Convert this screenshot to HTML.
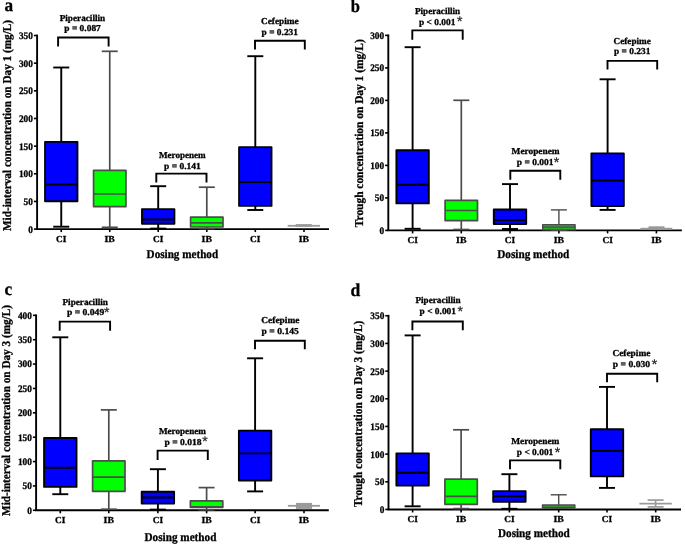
<!DOCTYPE html>
<html><head><meta charset="utf-8"><style>
html,body{margin:0;padding:0;background:#fff;width:685px;height:544px;overflow:hidden}
svg{display:block;will-change:transform;text-rendering:geometricPrecision}
</style></head><body>
<svg width="685" height="544" viewBox="0 0 685 544">
<rect width="685" height="544" fill="#fff"/>
<line x1="37.10" y1="34.61" x2="37.10" y2="229.10" stroke="#000" stroke-width="1.9" stroke-linecap="butt"/>
<line x1="36.15" y1="229.10" x2="329.00" y2="229.10" stroke="#000" stroke-width="1.9" stroke-linecap="butt"/>
<line x1="33.90" y1="229.10" x2="37.10" y2="229.10" stroke="#000" stroke-width="1.6" stroke-linecap="butt"/>
<text x="32.90" y="232.50" font-family="'Liberation Serif', serif" font-weight="bold" font-size="10" text-anchor="end" textLength="4.65" lengthAdjust="spacingAndGlyphs" stroke="#000" stroke-width="0.3">0</text>
<line x1="33.90" y1="201.44" x2="37.10" y2="201.44" stroke="#000" stroke-width="1.6" stroke-linecap="butt"/>
<text x="32.90" y="204.84" font-family="'Liberation Serif', serif" font-weight="bold" font-size="10" text-anchor="end" textLength="9.30" lengthAdjust="spacingAndGlyphs" stroke="#000" stroke-width="0.3">50</text>
<line x1="33.90" y1="173.79" x2="37.10" y2="173.79" stroke="#000" stroke-width="1.6" stroke-linecap="butt"/>
<text x="32.90" y="177.19" font-family="'Liberation Serif', serif" font-weight="bold" font-size="10" text-anchor="end" textLength="13.95" lengthAdjust="spacingAndGlyphs" stroke="#000" stroke-width="0.3">100</text>
<line x1="33.90" y1="146.13" x2="37.10" y2="146.13" stroke="#000" stroke-width="1.6" stroke-linecap="butt"/>
<text x="32.90" y="149.53" font-family="'Liberation Serif', serif" font-weight="bold" font-size="10" text-anchor="end" textLength="13.95" lengthAdjust="spacingAndGlyphs" stroke="#000" stroke-width="0.3">150</text>
<line x1="33.90" y1="118.48" x2="37.10" y2="118.48" stroke="#000" stroke-width="1.6" stroke-linecap="butt"/>
<text x="32.90" y="121.88" font-family="'Liberation Serif', serif" font-weight="bold" font-size="10" text-anchor="end" textLength="13.95" lengthAdjust="spacingAndGlyphs" stroke="#000" stroke-width="0.3">200</text>
<line x1="33.90" y1="90.82" x2="37.10" y2="90.82" stroke="#000" stroke-width="1.6" stroke-linecap="butt"/>
<text x="32.90" y="94.22" font-family="'Liberation Serif', serif" font-weight="bold" font-size="10" text-anchor="end" textLength="13.95" lengthAdjust="spacingAndGlyphs" stroke="#000" stroke-width="0.3">250</text>
<line x1="33.90" y1="63.17" x2="37.10" y2="63.17" stroke="#000" stroke-width="1.6" stroke-linecap="butt"/>
<text x="32.90" y="66.57" font-family="'Liberation Serif', serif" font-weight="bold" font-size="10" text-anchor="end" textLength="13.95" lengthAdjust="spacingAndGlyphs" stroke="#000" stroke-width="0.3">300</text>
<line x1="33.90" y1="35.51" x2="37.10" y2="35.51" stroke="#000" stroke-width="1.6" stroke-linecap="butt"/>
<text x="32.90" y="38.91" font-family="'Liberation Serif', serif" font-weight="bold" font-size="10" text-anchor="end" textLength="13.95" lengthAdjust="spacingAndGlyphs" stroke="#000" stroke-width="0.3">350</text>
<line x1="61.25" y1="229.10" x2="61.25" y2="232.10" stroke="#000" stroke-width="1.6" stroke-linecap="butt"/>
<text x="61.25" y="241.90" font-family="'Liberation Serif', serif" font-weight="bold" font-size="9.2" text-anchor="middle" textLength="10.40" lengthAdjust="spacingAndGlyphs" stroke="#000" stroke-width="0.3">CI</text>
<line x1="109.75" y1="229.10" x2="109.75" y2="232.10" stroke="#000" stroke-width="1.6" stroke-linecap="butt"/>
<text x="109.75" y="241.90" font-family="'Liberation Serif', serif" font-weight="bold" font-size="9.2" text-anchor="middle" textLength="10.40" lengthAdjust="spacingAndGlyphs" stroke="#000" stroke-width="0.3">IB</text>
<line x1="158.20" y1="229.10" x2="158.20" y2="232.10" stroke="#000" stroke-width="1.6" stroke-linecap="butt"/>
<text x="158.20" y="241.90" font-family="'Liberation Serif', serif" font-weight="bold" font-size="9.2" text-anchor="middle" textLength="10.40" lengthAdjust="spacingAndGlyphs" stroke="#000" stroke-width="0.3">CI</text>
<line x1="206.80" y1="229.10" x2="206.80" y2="232.10" stroke="#000" stroke-width="1.6" stroke-linecap="butt"/>
<text x="206.80" y="241.90" font-family="'Liberation Serif', serif" font-weight="bold" font-size="9.2" text-anchor="middle" textLength="10.40" lengthAdjust="spacingAndGlyphs" stroke="#000" stroke-width="0.3">IB</text>
<line x1="255.30" y1="229.10" x2="255.30" y2="232.10" stroke="#000" stroke-width="1.6" stroke-linecap="butt"/>
<text x="255.30" y="241.90" font-family="'Liberation Serif', serif" font-weight="bold" font-size="9.2" text-anchor="middle" textLength="10.40" lengthAdjust="spacingAndGlyphs" stroke="#000" stroke-width="0.3">CI</text>
<line x1="304.00" y1="229.10" x2="304.00" y2="232.10" stroke="#000" stroke-width="1.6" stroke-linecap="butt"/>
<text x="304.00" y="241.90" font-family="'Liberation Serif', serif" font-weight="bold" font-size="9.2" text-anchor="middle" textLength="10.40" lengthAdjust="spacingAndGlyphs" stroke="#000" stroke-width="0.3">IB</text>
<text x="4.60" y="11.00" font-family="'Liberation Serif', serif" font-weight="bold" font-size="18" text-anchor="start" textLength="8.60" lengthAdjust="spacingAndGlyphs" stroke="#000" stroke-width="0.3">a</text>
<text transform="translate(11.00,231.00) rotate(-90)" x="0" y="0" font-family="'Liberation Serif', serif" font-weight="bold" font-size="12" textLength="211.00" lengthAdjust="spacingAndGlyphs" stroke="#000" stroke-width="0.3">Mid-interval concentration on Day 1 (mg/L)</text>
<text x="146.60" y="257.80" font-family="'Liberation Serif', serif" font-weight="bold" font-size="12" text-anchor="start" textLength="71.50" lengthAdjust="spacingAndGlyphs" stroke="#000" stroke-width="0.3">Dosing method</text>
<line x1="61.25" y1="67.50" x2="61.25" y2="141.90" stroke="#000" stroke-width="1.9" stroke-linecap="butt"/>
<line x1="61.25" y1="201.20" x2="61.25" y2="226.70" stroke="#000" stroke-width="1.9" stroke-linecap="butt"/>
<line x1="53.25" y1="67.50" x2="69.25" y2="67.50" stroke="#000" stroke-width="1.9" stroke-linecap="butt"/>
<line x1="53.25" y1="226.70" x2="69.25" y2="226.70" stroke="#000" stroke-width="1.9" stroke-linecap="butt"/>
<rect x="45.05" y="141.90" width="32.40" height="59.30" fill="#0000ff" stroke="#000" stroke-width="1.9" stroke-linejoin="round"/>
<line x1="45.05" y1="184.50" x2="77.45" y2="184.50" stroke="#000" stroke-width="1.9" stroke-linecap="butt"/>
<line x1="109.75" y1="51.30" x2="109.75" y2="170.30" stroke="#4c4c4c" stroke-width="1.7" stroke-linecap="butt"/>
<line x1="109.75" y1="206.60" x2="109.75" y2="227.30" stroke="#4c4c4c" stroke-width="1.7" stroke-linecap="butt"/>
<line x1="101.75" y1="51.30" x2="117.75" y2="51.30" stroke="#4c4c4c" stroke-width="1.7" stroke-linecap="butt"/>
<line x1="101.75" y1="227.30" x2="117.75" y2="227.30" stroke="#4c4c4c" stroke-width="1.7" stroke-linecap="butt"/>
<rect x="93.55" y="170.30" width="32.40" height="36.30" fill="#00ff00" stroke="#4c4c4c" stroke-width="1.7" stroke-linejoin="round"/>
<line x1="93.55" y1="194.00" x2="125.95" y2="194.00" stroke="#4c4c4c" stroke-width="1.7" stroke-linecap="butt"/>
<line x1="158.20" y1="186.20" x2="158.20" y2="209.10" stroke="#000" stroke-width="1.9" stroke-linecap="butt"/>
<line x1="158.20" y1="223.80" x2="158.20" y2="228.60" stroke="#000" stroke-width="1.9" stroke-linecap="butt"/>
<line x1="150.20" y1="186.20" x2="166.20" y2="186.20" stroke="#000" stroke-width="1.9" stroke-linecap="butt"/>
<line x1="150.20" y1="228.60" x2="166.20" y2="228.60" stroke="#000" stroke-width="1.9" stroke-linecap="butt"/>
<rect x="142.00" y="209.10" width="32.40" height="14.70" fill="#0000ff" stroke="#000" stroke-width="1.9" stroke-linejoin="round"/>
<line x1="142.00" y1="219.50" x2="174.40" y2="219.50" stroke="#000" stroke-width="1.9" stroke-linecap="butt"/>
<line x1="206.80" y1="187.20" x2="206.80" y2="217.10" stroke="#4c4c4c" stroke-width="1.7" stroke-linecap="butt"/>
<line x1="206.80" y1="227.00" x2="206.80" y2="228.60" stroke="#4c4c4c" stroke-width="1.7" stroke-linecap="butt"/>
<line x1="198.80" y1="187.20" x2="214.80" y2="187.20" stroke="#4c4c4c" stroke-width="1.7" stroke-linecap="butt"/>
<line x1="198.80" y1="228.60" x2="214.80" y2="228.60" stroke="#4c4c4c" stroke-width="1.7" stroke-linecap="butt"/>
<rect x="190.60" y="217.10" width="32.40" height="9.90" fill="#00ff00" stroke="#4c4c4c" stroke-width="1.7" stroke-linejoin="round"/>
<line x1="190.60" y1="222.90" x2="223.00" y2="222.90" stroke="#4c4c4c" stroke-width="1.7" stroke-linecap="butt"/>
<line x1="255.30" y1="56.20" x2="255.30" y2="147.10" stroke="#000" stroke-width="1.9" stroke-linecap="butt"/>
<line x1="255.30" y1="205.90" x2="255.30" y2="210.00" stroke="#000" stroke-width="1.9" stroke-linecap="butt"/>
<line x1="247.30" y1="56.20" x2="263.30" y2="56.20" stroke="#000" stroke-width="1.9" stroke-linecap="butt"/>
<line x1="247.30" y1="210.00" x2="263.30" y2="210.00" stroke="#000" stroke-width="1.9" stroke-linecap="butt"/>
<rect x="239.10" y="147.10" width="32.40" height="58.80" fill="#0000ff" stroke="#000" stroke-width="1.9" stroke-linejoin="round"/>
<line x1="239.10" y1="182.00" x2="271.50" y2="182.00" stroke="#000" stroke-width="1.9" stroke-linecap="butt"/>
<rect x="287.70" y="224.90" width="32.30" height="1.80" fill="#9a9a9a" stroke-linejoin="round"/>
<rect x="295.70" y="224.10" width="16.10" height="2.60" fill="#999" stroke-linejoin="round"/>
<path d="M58.10 46.60 V37.50 H108.60 V46.60" fill="none" stroke="#000" stroke-width="1.9"/>
<path d="M156.30 182.60 V173.60 H206.50 V182.60" fill="none" stroke="#000" stroke-width="1.9"/>
<path d="M255.00 49.40 V40.80 H304.80 V49.40" fill="none" stroke="#000" stroke-width="1.9"/>
<text x="59.70" y="20.80" font-family="'Liberation Serif', serif" font-weight="bold" font-size="9.1" text-anchor="start" textLength="45.50" lengthAdjust="spacingAndGlyphs" stroke="#000" stroke-width="0.3">Piperacillin</text>
<text x="64.30" y="31.10" font-family="'Liberation Serif', serif" font-weight="bold" font-size="9.1" text-anchor="start" textLength="36.50" lengthAdjust="spacingAndGlyphs" stroke="#000" stroke-width="0.3">p = 0.087</text>
<text x="158.90" y="158.00" font-family="'Liberation Serif', serif" font-weight="bold" font-size="9.1" text-anchor="start" textLength="46.80" lengthAdjust="spacingAndGlyphs" stroke="#000" stroke-width="0.3">Meropenem</text>
<text x="164.00" y="169.40" font-family="'Liberation Serif', serif" font-weight="bold" font-size="9.1" text-anchor="start" textLength="36.80" lengthAdjust="spacingAndGlyphs" stroke="#000" stroke-width="0.3">p = 0.141</text>
<text x="261.00" y="24.00" font-family="'Liberation Serif', serif" font-weight="bold" font-size="9.1" text-anchor="start" textLength="37.70" lengthAdjust="spacingAndGlyphs" stroke="#000" stroke-width="0.3">Cefepime</text>
<text x="261.60" y="35.10" font-family="'Liberation Serif', serif" font-weight="bold" font-size="9.1" text-anchor="start" textLength="36.40" lengthAdjust="spacingAndGlyphs" stroke="#000" stroke-width="0.3">p = 0.231</text>
<line x1="388.30" y1="34.50" x2="388.30" y2="230.40" stroke="#000" stroke-width="1.9" stroke-linecap="butt"/>
<line x1="387.35" y1="230.40" x2="681.90" y2="230.40" stroke="#000" stroke-width="1.9" stroke-linecap="butt"/>
<line x1="385.10" y1="230.40" x2="388.30" y2="230.40" stroke="#000" stroke-width="1.6" stroke-linecap="butt"/>
<text x="384.10" y="233.80" font-family="'Liberation Serif', serif" font-weight="bold" font-size="10" text-anchor="end" textLength="4.65" lengthAdjust="spacingAndGlyphs" stroke="#000" stroke-width="0.3">0</text>
<line x1="385.10" y1="197.90" x2="388.30" y2="197.90" stroke="#000" stroke-width="1.6" stroke-linecap="butt"/>
<text x="384.10" y="201.30" font-family="'Liberation Serif', serif" font-weight="bold" font-size="10" text-anchor="end" textLength="9.30" lengthAdjust="spacingAndGlyphs" stroke="#000" stroke-width="0.3">50</text>
<line x1="385.10" y1="165.40" x2="388.30" y2="165.40" stroke="#000" stroke-width="1.6" stroke-linecap="butt"/>
<text x="384.10" y="168.80" font-family="'Liberation Serif', serif" font-weight="bold" font-size="10" text-anchor="end" textLength="13.95" lengthAdjust="spacingAndGlyphs" stroke="#000" stroke-width="0.3">100</text>
<line x1="385.10" y1="132.90" x2="388.30" y2="132.90" stroke="#000" stroke-width="1.6" stroke-linecap="butt"/>
<text x="384.10" y="136.30" font-family="'Liberation Serif', serif" font-weight="bold" font-size="10" text-anchor="end" textLength="13.95" lengthAdjust="spacingAndGlyphs" stroke="#000" stroke-width="0.3">150</text>
<line x1="385.10" y1="100.40" x2="388.30" y2="100.40" stroke="#000" stroke-width="1.6" stroke-linecap="butt"/>
<text x="384.10" y="103.80" font-family="'Liberation Serif', serif" font-weight="bold" font-size="10" text-anchor="end" textLength="13.95" lengthAdjust="spacingAndGlyphs" stroke="#000" stroke-width="0.3">200</text>
<line x1="385.10" y1="67.90" x2="388.30" y2="67.90" stroke="#000" stroke-width="1.6" stroke-linecap="butt"/>
<text x="384.10" y="71.30" font-family="'Liberation Serif', serif" font-weight="bold" font-size="10" text-anchor="end" textLength="13.95" lengthAdjust="spacingAndGlyphs" stroke="#000" stroke-width="0.3">250</text>
<line x1="385.10" y1="35.40" x2="388.30" y2="35.40" stroke="#000" stroke-width="1.6" stroke-linecap="butt"/>
<text x="384.10" y="38.80" font-family="'Liberation Serif', serif" font-weight="bold" font-size="10" text-anchor="end" textLength="13.95" lengthAdjust="spacingAndGlyphs" stroke="#000" stroke-width="0.3">300</text>
<line x1="412.60" y1="230.40" x2="412.60" y2="233.40" stroke="#000" stroke-width="1.6" stroke-linecap="butt"/>
<text x="412.60" y="243.10" font-family="'Liberation Serif', serif" font-weight="bold" font-size="9.2" text-anchor="middle" textLength="10.40" lengthAdjust="spacingAndGlyphs" stroke="#000" stroke-width="0.3">CI</text>
<line x1="461.30" y1="230.40" x2="461.30" y2="233.40" stroke="#000" stroke-width="1.6" stroke-linecap="butt"/>
<text x="461.30" y="243.10" font-family="'Liberation Serif', serif" font-weight="bold" font-size="9.2" text-anchor="middle" textLength="10.40" lengthAdjust="spacingAndGlyphs" stroke="#000" stroke-width="0.3">IB</text>
<line x1="510.00" y1="230.40" x2="510.00" y2="233.40" stroke="#000" stroke-width="1.6" stroke-linecap="butt"/>
<text x="510.00" y="243.10" font-family="'Liberation Serif', serif" font-weight="bold" font-size="9.2" text-anchor="middle" textLength="10.40" lengthAdjust="spacingAndGlyphs" stroke="#000" stroke-width="0.3">CI</text>
<line x1="558.90" y1="230.40" x2="558.90" y2="233.40" stroke="#000" stroke-width="1.6" stroke-linecap="butt"/>
<text x="558.90" y="243.10" font-family="'Liberation Serif', serif" font-weight="bold" font-size="9.2" text-anchor="middle" textLength="10.40" lengthAdjust="spacingAndGlyphs" stroke="#000" stroke-width="0.3">IB</text>
<line x1="607.60" y1="230.40" x2="607.60" y2="233.40" stroke="#000" stroke-width="1.6" stroke-linecap="butt"/>
<text x="607.60" y="243.10" font-family="'Liberation Serif', serif" font-weight="bold" font-size="9.2" text-anchor="middle" textLength="10.40" lengthAdjust="spacingAndGlyphs" stroke="#000" stroke-width="0.3">CI</text>
<line x1="656.40" y1="230.40" x2="656.40" y2="233.40" stroke="#000" stroke-width="1.6" stroke-linecap="butt"/>
<text x="656.40" y="243.10" font-family="'Liberation Serif', serif" font-weight="bold" font-size="9.2" text-anchor="middle" textLength="10.40" lengthAdjust="spacingAndGlyphs" stroke="#000" stroke-width="0.3">IB</text>
<text x="350.80" y="12.10" font-family="'Liberation Serif', serif" font-weight="bold" font-size="18" text-anchor="start" textLength="9.20" lengthAdjust="spacingAndGlyphs" stroke="#000" stroke-width="0.3">b</text>
<text transform="translate(362.60,227.20) rotate(-90)" x="0" y="0" font-family="'Liberation Serif', serif" font-weight="bold" font-size="12" textLength="187.90" lengthAdjust="spacingAndGlyphs" stroke="#000" stroke-width="0.3">Trough concentration on Day 1 (mg/L)</text>
<text x="497.20" y="258.00" font-family="'Liberation Serif', serif" font-weight="bold" font-size="12" text-anchor="start" textLength="72.10" lengthAdjust="spacingAndGlyphs" stroke="#000" stroke-width="0.3">Dosing method</text>
<line x1="412.60" y1="47.20" x2="412.60" y2="150.30" stroke="#000" stroke-width="1.9" stroke-linecap="butt"/>
<line x1="412.60" y1="203.40" x2="412.60" y2="228.80" stroke="#000" stroke-width="1.9" stroke-linecap="butt"/>
<line x1="404.60" y1="47.20" x2="420.60" y2="47.20" stroke="#000" stroke-width="1.9" stroke-linecap="butt"/>
<line x1="404.60" y1="228.80" x2="420.60" y2="228.80" stroke="#000" stroke-width="1.9" stroke-linecap="butt"/>
<rect x="396.40" y="150.30" width="32.40" height="53.10" fill="#0000ff" stroke="#000" stroke-width="1.9" stroke-linejoin="round"/>
<line x1="396.40" y1="184.70" x2="428.80" y2="184.70" stroke="#000" stroke-width="1.9" stroke-linecap="butt"/>
<line x1="461.30" y1="100.30" x2="461.30" y2="200.40" stroke="#4c4c4c" stroke-width="1.7" stroke-linecap="butt"/>
<line x1="461.30" y1="220.60" x2="461.30" y2="229.50" stroke="#4c4c4c" stroke-width="1.7" stroke-linecap="butt"/>
<line x1="453.30" y1="100.30" x2="469.30" y2="100.30" stroke="#4c4c4c" stroke-width="1.7" stroke-linecap="butt"/>
<line x1="453.30" y1="229.50" x2="469.30" y2="229.50" stroke="#4c4c4c" stroke-width="1.7" stroke-linecap="butt"/>
<rect x="445.10" y="200.40" width="32.40" height="20.20" fill="#00ff00" stroke="#4c4c4c" stroke-width="1.7" stroke-linejoin="round"/>
<line x1="445.10" y1="210.50" x2="477.50" y2="210.50" stroke="#4c4c4c" stroke-width="1.7" stroke-linecap="butt"/>
<line x1="510.00" y1="184.10" x2="510.00" y2="209.50" stroke="#000" stroke-width="1.9" stroke-linecap="butt"/>
<line x1="510.00" y1="224.00" x2="510.00" y2="229.00" stroke="#000" stroke-width="1.9" stroke-linecap="butt"/>
<line x1="502.00" y1="184.10" x2="518.00" y2="184.10" stroke="#000" stroke-width="1.9" stroke-linecap="butt"/>
<line x1="502.00" y1="229.00" x2="518.00" y2="229.00" stroke="#000" stroke-width="1.9" stroke-linecap="butt"/>
<rect x="493.80" y="209.50" width="32.40" height="14.50" fill="#0000ff" stroke="#000" stroke-width="1.9" stroke-linejoin="round"/>
<line x1="493.80" y1="220.30" x2="526.20" y2="220.30" stroke="#000" stroke-width="1.9" stroke-linecap="butt"/>
<line x1="558.90" y1="209.90" x2="558.90" y2="224.60" stroke="#4c4c4c" stroke-width="1.4" stroke-linecap="butt"/>
<line x1="558.90" y1="229.90" x2="558.90" y2="230.20" stroke="#4c4c4c" stroke-width="1.4" stroke-linecap="butt"/>
<line x1="550.90" y1="209.90" x2="566.90" y2="209.90" stroke="#4c4c4c" stroke-width="1.4" stroke-linecap="butt"/>
<line x1="550.90" y1="230.20" x2="566.90" y2="230.20" stroke="#4c4c4c" stroke-width="1.4" stroke-linecap="butt"/>
<rect x="542.70" y="224.60" width="32.40" height="5.30" fill="#30a830" stroke="#4c4c4c" stroke-width="1.4" stroke-linejoin="round"/>
<line x1="542.70" y1="227.10" x2="575.10" y2="227.10" stroke="#4c4c4c" stroke-width="1.4" stroke-linecap="butt"/>
<line x1="607.60" y1="79.30" x2="607.60" y2="153.40" stroke="#000" stroke-width="1.9" stroke-linecap="butt"/>
<line x1="607.60" y1="206.10" x2="607.60" y2="209.90" stroke="#000" stroke-width="1.9" stroke-linecap="butt"/>
<line x1="599.60" y1="79.30" x2="615.60" y2="79.30" stroke="#000" stroke-width="1.9" stroke-linecap="butt"/>
<line x1="599.60" y1="209.90" x2="615.60" y2="209.90" stroke="#000" stroke-width="1.9" stroke-linecap="butt"/>
<rect x="591.40" y="153.40" width="32.40" height="52.70" fill="#0000ff" stroke="#000" stroke-width="1.9" stroke-linejoin="round"/>
<line x1="591.40" y1="180.50" x2="623.80" y2="180.50" stroke="#000" stroke-width="1.9" stroke-linecap="butt"/>
<rect x="640.40" y="227.80" width="31.90" height="1.90" fill="#9a9a9a" stroke-linejoin="round"/>
<rect x="648.50" y="226.30" width="16.00" height="3.40" fill="#999" stroke-linejoin="round"/>
<path d="M412.30 39.70 V30.40 H462.70 V39.70" fill="none" stroke="#000" stroke-width="1.9"/>
<path d="M510.30 179.70 V170.70 H560.30 V179.70" fill="none" stroke="#000" stroke-width="1.9"/>
<path d="M607.50 69.50 V60.90 H657.20 V69.50" fill="none" stroke="#000" stroke-width="1.9"/>
<text x="414.90" y="13.80" font-family="'Liberation Serif', serif" font-weight="bold" font-size="9.1" text-anchor="start" textLength="45.30" lengthAdjust="spacingAndGlyphs" stroke="#000" stroke-width="0.3">Piperacillin</text>
<text x="419.00" y="24.60" font-family="'Liberation Serif', serif" font-weight="bold" font-size="9.1" text-anchor="start" textLength="36.50" lengthAdjust="spacingAndGlyphs" stroke="#000" stroke-width="0.3">p &lt; 0.001</text>
<text x="457.05" y="25.70" font-family="'Liberation Sans', sans-serif" font-weight="normal" font-size="14.0" text-anchor="start" fill="#222" stroke="#222" stroke-width="0.25">*</text>
<text x="511.60" y="154.20" font-family="'Liberation Serif', serif" font-weight="bold" font-size="9.1" text-anchor="start" textLength="48.00" lengthAdjust="spacingAndGlyphs" stroke="#000" stroke-width="0.3">Meropenem</text>
<text x="516.80" y="165.20" font-family="'Liberation Serif', serif" font-weight="bold" font-size="9.1" text-anchor="start" textLength="36.80" lengthAdjust="spacingAndGlyphs" stroke="#000" stroke-width="0.3">p = 0.001</text>
<text x="553.85" y="167.00" font-family="'Liberation Sans', sans-serif" font-weight="normal" font-size="14.0" text-anchor="start" fill="#222" stroke="#222" stroke-width="0.25">*</text>
<text x="613.60" y="43.50" font-family="'Liberation Serif', serif" font-weight="bold" font-size="9.1" text-anchor="start" textLength="37.20" lengthAdjust="spacingAndGlyphs" stroke="#000" stroke-width="0.3">Cefepime</text>
<text x="614.00" y="54.40" font-family="'Liberation Serif', serif" font-weight="bold" font-size="9.1" text-anchor="start" textLength="36.40" lengthAdjust="spacingAndGlyphs" stroke="#000" stroke-width="0.3">p = 0.231</text>
<line x1="36.10" y1="314.44" x2="36.10" y2="510.30" stroke="#000" stroke-width="1.9" stroke-linecap="butt"/>
<line x1="35.15" y1="510.30" x2="328.80" y2="510.30" stroke="#000" stroke-width="1.9" stroke-linecap="butt"/>
<line x1="32.90" y1="510.30" x2="36.10" y2="510.30" stroke="#000" stroke-width="1.6" stroke-linecap="butt"/>
<text x="31.90" y="513.70" font-family="'Liberation Serif', serif" font-weight="bold" font-size="10" text-anchor="end" textLength="4.65" lengthAdjust="spacingAndGlyphs" stroke="#000" stroke-width="0.3">0</text>
<line x1="32.90" y1="485.93" x2="36.10" y2="485.93" stroke="#000" stroke-width="1.6" stroke-linecap="butt"/>
<text x="31.90" y="489.33" font-family="'Liberation Serif', serif" font-weight="bold" font-size="10" text-anchor="end" textLength="9.30" lengthAdjust="spacingAndGlyphs" stroke="#000" stroke-width="0.3">50</text>
<line x1="32.90" y1="461.56" x2="36.10" y2="461.56" stroke="#000" stroke-width="1.6" stroke-linecap="butt"/>
<text x="31.90" y="464.96" font-family="'Liberation Serif', serif" font-weight="bold" font-size="10" text-anchor="end" textLength="13.95" lengthAdjust="spacingAndGlyphs" stroke="#000" stroke-width="0.3">100</text>
<line x1="32.90" y1="437.19" x2="36.10" y2="437.19" stroke="#000" stroke-width="1.6" stroke-linecap="butt"/>
<text x="31.90" y="440.59" font-family="'Liberation Serif', serif" font-weight="bold" font-size="10" text-anchor="end" textLength="13.95" lengthAdjust="spacingAndGlyphs" stroke="#000" stroke-width="0.3">150</text>
<line x1="32.90" y1="412.82" x2="36.10" y2="412.82" stroke="#000" stroke-width="1.6" stroke-linecap="butt"/>
<text x="31.90" y="416.22" font-family="'Liberation Serif', serif" font-weight="bold" font-size="10" text-anchor="end" textLength="13.95" lengthAdjust="spacingAndGlyphs" stroke="#000" stroke-width="0.3">200</text>
<line x1="32.90" y1="388.45" x2="36.10" y2="388.45" stroke="#000" stroke-width="1.6" stroke-linecap="butt"/>
<text x="31.90" y="391.85" font-family="'Liberation Serif', serif" font-weight="bold" font-size="10" text-anchor="end" textLength="13.95" lengthAdjust="spacingAndGlyphs" stroke="#000" stroke-width="0.3">250</text>
<line x1="32.90" y1="364.08" x2="36.10" y2="364.08" stroke="#000" stroke-width="1.6" stroke-linecap="butt"/>
<text x="31.90" y="367.48" font-family="'Liberation Serif', serif" font-weight="bold" font-size="10" text-anchor="end" textLength="13.95" lengthAdjust="spacingAndGlyphs" stroke="#000" stroke-width="0.3">300</text>
<line x1="32.90" y1="339.71" x2="36.10" y2="339.71" stroke="#000" stroke-width="1.6" stroke-linecap="butt"/>
<text x="31.90" y="343.11" font-family="'Liberation Serif', serif" font-weight="bold" font-size="10" text-anchor="end" textLength="13.95" lengthAdjust="spacingAndGlyphs" stroke="#000" stroke-width="0.3">350</text>
<line x1="32.90" y1="315.34" x2="36.10" y2="315.34" stroke="#000" stroke-width="1.6" stroke-linecap="butt"/>
<text x="31.90" y="318.74" font-family="'Liberation Serif', serif" font-weight="bold" font-size="10" text-anchor="end" textLength="13.95" lengthAdjust="spacingAndGlyphs" stroke="#000" stroke-width="0.3">400</text>
<line x1="60.30" y1="510.30" x2="60.30" y2="513.30" stroke="#000" stroke-width="1.6" stroke-linecap="butt"/>
<text x="60.30" y="523.10" font-family="'Liberation Serif', serif" font-weight="bold" font-size="9.2" text-anchor="middle" textLength="10.40" lengthAdjust="spacingAndGlyphs" stroke="#000" stroke-width="0.3">CI</text>
<line x1="108.80" y1="510.30" x2="108.80" y2="513.30" stroke="#000" stroke-width="1.6" stroke-linecap="butt"/>
<text x="108.80" y="523.10" font-family="'Liberation Serif', serif" font-weight="bold" font-size="9.2" text-anchor="middle" textLength="10.40" lengthAdjust="spacingAndGlyphs" stroke="#000" stroke-width="0.3">IB</text>
<line x1="157.90" y1="510.30" x2="157.90" y2="513.30" stroke="#000" stroke-width="1.6" stroke-linecap="butt"/>
<text x="157.90" y="523.10" font-family="'Liberation Serif', serif" font-weight="bold" font-size="9.2" text-anchor="middle" textLength="10.40" lengthAdjust="spacingAndGlyphs" stroke="#000" stroke-width="0.3">CI</text>
<line x1="206.60" y1="510.30" x2="206.60" y2="513.30" stroke="#000" stroke-width="1.6" stroke-linecap="butt"/>
<text x="206.60" y="523.10" font-family="'Liberation Serif', serif" font-weight="bold" font-size="9.2" text-anchor="middle" textLength="10.40" lengthAdjust="spacingAndGlyphs" stroke="#000" stroke-width="0.3">IB</text>
<line x1="255.10" y1="510.30" x2="255.10" y2="513.30" stroke="#000" stroke-width="1.6" stroke-linecap="butt"/>
<text x="255.10" y="523.10" font-family="'Liberation Serif', serif" font-weight="bold" font-size="9.2" text-anchor="middle" textLength="10.40" lengthAdjust="spacingAndGlyphs" stroke="#000" stroke-width="0.3">CI</text>
<line x1="304.00" y1="510.30" x2="304.00" y2="513.30" stroke="#000" stroke-width="1.6" stroke-linecap="butt"/>
<text x="304.00" y="523.10" font-family="'Liberation Serif', serif" font-weight="bold" font-size="9.2" text-anchor="middle" textLength="10.40" lengthAdjust="spacingAndGlyphs" stroke="#000" stroke-width="0.3">IB</text>
<text x="4.50" y="295.00" font-family="'Liberation Serif', serif" font-weight="bold" font-size="18" text-anchor="start" textLength="7.70" lengthAdjust="spacingAndGlyphs" stroke="#000" stroke-width="0.3">c</text>
<text transform="translate(10.20,515.90) rotate(-90)" x="0" y="0" font-family="'Liberation Serif', serif" font-weight="bold" font-size="12" textLength="210.80" lengthAdjust="spacingAndGlyphs" stroke="#000" stroke-width="0.3">Mid-interval concentration on Day 3 (mg/L)</text>
<text x="144.50" y="540.70" font-family="'Liberation Serif', serif" font-weight="bold" font-size="12" text-anchor="start" textLength="71.90" lengthAdjust="spacingAndGlyphs" stroke="#000" stroke-width="0.3">Dosing method</text>
<line x1="60.30" y1="337.30" x2="60.30" y2="438.00" stroke="#000" stroke-width="1.9" stroke-linecap="butt"/>
<line x1="60.30" y1="486.90" x2="60.30" y2="494.20" stroke="#000" stroke-width="1.9" stroke-linecap="butt"/>
<line x1="52.30" y1="337.30" x2="68.30" y2="337.30" stroke="#000" stroke-width="1.9" stroke-linecap="butt"/>
<line x1="52.30" y1="494.20" x2="68.30" y2="494.20" stroke="#000" stroke-width="1.9" stroke-linecap="butt"/>
<rect x="44.10" y="438.00" width="32.40" height="48.90" fill="#0000ff" stroke="#000" stroke-width="1.9" stroke-linejoin="round"/>
<line x1="44.10" y1="467.70" x2="76.50" y2="467.70" stroke="#000" stroke-width="1.9" stroke-linecap="butt"/>
<line x1="108.80" y1="409.90" x2="108.80" y2="460.90" stroke="#4c4c4c" stroke-width="1.7" stroke-linecap="butt"/>
<line x1="108.80" y1="491.30" x2="108.80" y2="509.20" stroke="#4c4c4c" stroke-width="1.7" stroke-linecap="butt"/>
<line x1="100.80" y1="409.90" x2="116.80" y2="409.90" stroke="#4c4c4c" stroke-width="1.7" stroke-linecap="butt"/>
<line x1="100.80" y1="509.20" x2="116.80" y2="509.20" stroke="#4c4c4c" stroke-width="1.7" stroke-linecap="butt"/>
<rect x="92.60" y="460.90" width="32.40" height="30.40" fill="#00ff00" stroke="#4c4c4c" stroke-width="1.7" stroke-linejoin="round"/>
<line x1="92.60" y1="477.20" x2="125.00" y2="477.20" stroke="#4c4c4c" stroke-width="1.7" stroke-linecap="butt"/>
<line x1="157.90" y1="469.20" x2="157.90" y2="491.80" stroke="#000" stroke-width="1.9" stroke-linecap="butt"/>
<line x1="157.90" y1="503.60" x2="157.90" y2="509.60" stroke="#000" stroke-width="1.9" stroke-linecap="butt"/>
<line x1="149.90" y1="469.20" x2="165.90" y2="469.20" stroke="#000" stroke-width="1.9" stroke-linecap="butt"/>
<line x1="149.90" y1="509.60" x2="165.90" y2="509.60" stroke="#000" stroke-width="1.9" stroke-linecap="butt"/>
<rect x="141.70" y="491.80" width="32.40" height="11.80" fill="#0000ff" stroke="#000" stroke-width="1.9" stroke-linejoin="round"/>
<line x1="141.70" y1="497.50" x2="174.10" y2="497.50" stroke="#000" stroke-width="1.9" stroke-linecap="butt"/>
<line x1="206.60" y1="487.60" x2="206.60" y2="500.80" stroke="#4c4c4c" stroke-width="1.7" stroke-linecap="butt"/>
<line x1="206.60" y1="507.30" x2="206.60" y2="509.80" stroke="#4c4c4c" stroke-width="1.7" stroke-linecap="butt"/>
<line x1="198.60" y1="487.60" x2="214.60" y2="487.60" stroke="#4c4c4c" stroke-width="1.7" stroke-linecap="butt"/>
<line x1="198.60" y1="509.80" x2="214.60" y2="509.80" stroke="#4c4c4c" stroke-width="1.7" stroke-linecap="butt"/>
<rect x="190.40" y="500.80" width="32.40" height="6.50" fill="#00ff00" stroke="#4c4c4c" stroke-width="1.7" stroke-linejoin="round"/>
<line x1="190.40" y1="506.90" x2="222.80" y2="506.90" stroke="#4c4c4c" stroke-width="1.7" stroke-linecap="butt"/>
<line x1="255.10" y1="358.30" x2="255.10" y2="430.60" stroke="#000" stroke-width="1.9" stroke-linecap="butt"/>
<line x1="255.10" y1="480.50" x2="255.10" y2="491.40" stroke="#000" stroke-width="1.9" stroke-linecap="butt"/>
<line x1="247.10" y1="358.30" x2="263.10" y2="358.30" stroke="#000" stroke-width="1.9" stroke-linecap="butt"/>
<line x1="247.10" y1="491.40" x2="263.10" y2="491.40" stroke="#000" stroke-width="1.9" stroke-linecap="butt"/>
<rect x="238.90" y="430.60" width="32.40" height="49.90" fill="#0000ff" stroke="#000" stroke-width="1.9" stroke-linejoin="round"/>
<line x1="238.90" y1="453.40" x2="271.30" y2="453.40" stroke="#000" stroke-width="1.9" stroke-linecap="butt"/>
<rect x="287.90" y="504.90" width="32.10" height="1.80" fill="#9a9a9a" stroke-linejoin="round"/>
<rect x="295.90" y="502.90" width="16.20" height="6.00" fill="#9a9a9a" stroke-linejoin="round"/>
<path d="M59.70 330.80 V321.60 H110.10 V330.80" fill="none" stroke="#000" stroke-width="1.9"/>
<path d="M157.60 460.00 V450.60 H207.80 V460.00" fill="none" stroke="#000" stroke-width="1.9"/>
<path d="M255.00 349.30 V340.70 H304.80 V349.30" fill="none" stroke="#000" stroke-width="1.9"/>
<text x="62.50" y="304.60" font-family="'Liberation Serif', serif" font-weight="bold" font-size="9.1" text-anchor="start" textLength="45.40" lengthAdjust="spacingAndGlyphs" stroke="#000" stroke-width="0.3">Piperacillin</text>
<text x="66.90" y="315.10" font-family="'Liberation Serif', serif" font-weight="bold" font-size="9.1" text-anchor="start" textLength="37.30" lengthAdjust="spacingAndGlyphs" stroke="#000" stroke-width="0.3">p = 0.049</text>
<text x="104.05" y="316.90" font-family="'Liberation Sans', sans-serif" font-weight="normal" font-size="14.0" text-anchor="start" fill="#222" stroke="#222" stroke-width="0.25">*</text>
<text x="158.90" y="433.50" font-family="'Liberation Serif', serif" font-weight="bold" font-size="9.1" text-anchor="start" textLength="47.00" lengthAdjust="spacingAndGlyphs" stroke="#000" stroke-width="0.3">Meropenem</text>
<text x="164.40" y="444.60" font-family="'Liberation Serif', serif" font-weight="bold" font-size="9.1" text-anchor="start" textLength="37.20" lengthAdjust="spacingAndGlyphs" stroke="#000" stroke-width="0.3">p = 0.018</text>
<text x="202.15" y="446.30" font-family="'Liberation Sans', sans-serif" font-weight="normal" font-size="14.0" text-anchor="start" fill="#222" stroke="#222" stroke-width="0.25">*</text>
<text x="261.30" y="323.30" font-family="'Liberation Serif', serif" font-weight="bold" font-size="9.1" text-anchor="start" textLength="38.20" lengthAdjust="spacingAndGlyphs" stroke="#000" stroke-width="0.3">Cefepime</text>
<text x="261.60" y="334.00" font-family="'Liberation Serif', serif" font-weight="bold" font-size="9.1" text-anchor="start" textLength="37.30" lengthAdjust="spacingAndGlyphs" stroke="#000" stroke-width="0.3">p = 0.145</text>
<line x1="388.50" y1="314.86" x2="388.50" y2="509.45" stroke="#000" stroke-width="1.9" stroke-linecap="butt"/>
<line x1="387.55" y1="509.45" x2="681.00" y2="509.45" stroke="#000" stroke-width="1.9" stroke-linecap="butt"/>
<line x1="385.30" y1="509.45" x2="388.50" y2="509.45" stroke="#000" stroke-width="1.6" stroke-linecap="butt"/>
<text x="384.30" y="512.85" font-family="'Liberation Serif', serif" font-weight="bold" font-size="10" text-anchor="end" textLength="4.65" lengthAdjust="spacingAndGlyphs" stroke="#000" stroke-width="0.3">0</text>
<line x1="385.30" y1="481.78" x2="388.50" y2="481.78" stroke="#000" stroke-width="1.6" stroke-linecap="butt"/>
<text x="384.30" y="485.18" font-family="'Liberation Serif', serif" font-weight="bold" font-size="10" text-anchor="end" textLength="9.30" lengthAdjust="spacingAndGlyphs" stroke="#000" stroke-width="0.3">50</text>
<line x1="385.30" y1="454.11" x2="388.50" y2="454.11" stroke="#000" stroke-width="1.6" stroke-linecap="butt"/>
<text x="384.30" y="457.51" font-family="'Liberation Serif', serif" font-weight="bold" font-size="10" text-anchor="end" textLength="13.95" lengthAdjust="spacingAndGlyphs" stroke="#000" stroke-width="0.3">100</text>
<line x1="385.30" y1="426.44" x2="388.50" y2="426.44" stroke="#000" stroke-width="1.6" stroke-linecap="butt"/>
<text x="384.30" y="429.84" font-family="'Liberation Serif', serif" font-weight="bold" font-size="10" text-anchor="end" textLength="13.95" lengthAdjust="spacingAndGlyphs" stroke="#000" stroke-width="0.3">150</text>
<line x1="385.30" y1="398.77" x2="388.50" y2="398.77" stroke="#000" stroke-width="1.6" stroke-linecap="butt"/>
<text x="384.30" y="402.17" font-family="'Liberation Serif', serif" font-weight="bold" font-size="10" text-anchor="end" textLength="13.95" lengthAdjust="spacingAndGlyphs" stroke="#000" stroke-width="0.3">200</text>
<line x1="385.30" y1="371.10" x2="388.50" y2="371.10" stroke="#000" stroke-width="1.6" stroke-linecap="butt"/>
<text x="384.30" y="374.50" font-family="'Liberation Serif', serif" font-weight="bold" font-size="10" text-anchor="end" textLength="13.95" lengthAdjust="spacingAndGlyphs" stroke="#000" stroke-width="0.3">250</text>
<line x1="385.30" y1="343.43" x2="388.50" y2="343.43" stroke="#000" stroke-width="1.6" stroke-linecap="butt"/>
<text x="384.30" y="346.83" font-family="'Liberation Serif', serif" font-weight="bold" font-size="10" text-anchor="end" textLength="13.95" lengthAdjust="spacingAndGlyphs" stroke="#000" stroke-width="0.3">300</text>
<line x1="385.30" y1="315.76" x2="388.50" y2="315.76" stroke="#000" stroke-width="1.6" stroke-linecap="butt"/>
<text x="384.30" y="319.16" font-family="'Liberation Serif', serif" font-weight="bold" font-size="10" text-anchor="end" textLength="13.95" lengthAdjust="spacingAndGlyphs" stroke="#000" stroke-width="0.3">350</text>
<line x1="412.60" y1="509.45" x2="412.60" y2="512.45" stroke="#000" stroke-width="1.6" stroke-linecap="butt"/>
<text x="412.60" y="522.00" font-family="'Liberation Serif', serif" font-weight="bold" font-size="9.2" text-anchor="middle" textLength="10.40" lengthAdjust="spacingAndGlyphs" stroke="#000" stroke-width="0.3">CI</text>
<line x1="461.10" y1="509.45" x2="461.10" y2="512.45" stroke="#000" stroke-width="1.6" stroke-linecap="butt"/>
<text x="461.10" y="522.00" font-family="'Liberation Serif', serif" font-weight="bold" font-size="9.2" text-anchor="middle" textLength="10.40" lengthAdjust="spacingAndGlyphs" stroke="#000" stroke-width="0.3">IB</text>
<line x1="509.40" y1="509.45" x2="509.40" y2="512.45" stroke="#000" stroke-width="1.6" stroke-linecap="butt"/>
<text x="509.40" y="522.00" font-family="'Liberation Serif', serif" font-weight="bold" font-size="9.2" text-anchor="middle" textLength="10.40" lengthAdjust="spacingAndGlyphs" stroke="#000" stroke-width="0.3">CI</text>
<line x1="558.70" y1="509.45" x2="558.70" y2="512.45" stroke="#000" stroke-width="1.6" stroke-linecap="butt"/>
<text x="558.70" y="522.00" font-family="'Liberation Serif', serif" font-weight="bold" font-size="9.2" text-anchor="middle" textLength="10.40" lengthAdjust="spacingAndGlyphs" stroke="#000" stroke-width="0.3">IB</text>
<line x1="607.00" y1="509.45" x2="607.00" y2="512.45" stroke="#000" stroke-width="1.6" stroke-linecap="butt"/>
<text x="607.00" y="522.00" font-family="'Liberation Serif', serif" font-weight="bold" font-size="9.2" text-anchor="middle" textLength="10.40" lengthAdjust="spacingAndGlyphs" stroke="#000" stroke-width="0.3">CI</text>
<line x1="655.70" y1="509.45" x2="655.70" y2="512.45" stroke="#000" stroke-width="1.6" stroke-linecap="butt"/>
<text x="655.70" y="522.00" font-family="'Liberation Serif', serif" font-weight="bold" font-size="9.2" text-anchor="middle" textLength="10.40" lengthAdjust="spacingAndGlyphs" stroke="#000" stroke-width="0.3">IB</text>
<text x="350.50" y="295.90" font-family="'Liberation Serif', serif" font-weight="bold" font-size="18" text-anchor="start" textLength="9.80" lengthAdjust="spacingAndGlyphs" stroke="#000" stroke-width="0.3">d</text>
<text transform="translate(362.00,507.10) rotate(-90)" x="0" y="0" font-family="'Liberation Serif', serif" font-weight="bold" font-size="12" textLength="186.40" lengthAdjust="spacingAndGlyphs" stroke="#000" stroke-width="0.3">Trough concentration on Day 3 (mg/L)</text>
<text x="498.00" y="537.40" font-family="'Liberation Serif', serif" font-weight="bold" font-size="12" text-anchor="start" textLength="71.70" lengthAdjust="spacingAndGlyphs" stroke="#000" stroke-width="0.3">Dosing method</text>
<line x1="412.60" y1="335.40" x2="412.60" y2="453.40" stroke="#000" stroke-width="1.9" stroke-linecap="butt"/>
<line x1="412.60" y1="485.60" x2="412.60" y2="506.30" stroke="#000" stroke-width="1.9" stroke-linecap="butt"/>
<line x1="404.60" y1="335.40" x2="420.60" y2="335.40" stroke="#000" stroke-width="1.9" stroke-linecap="butt"/>
<line x1="404.60" y1="506.30" x2="420.60" y2="506.30" stroke="#000" stroke-width="1.9" stroke-linecap="butt"/>
<rect x="396.40" y="453.40" width="32.40" height="32.20" fill="#0000ff" stroke="#000" stroke-width="1.9" stroke-linejoin="round"/>
<line x1="396.40" y1="472.80" x2="428.80" y2="472.80" stroke="#000" stroke-width="1.9" stroke-linecap="butt"/>
<line x1="461.10" y1="429.80" x2="461.10" y2="479.20" stroke="#4c4c4c" stroke-width="1.7" stroke-linecap="butt"/>
<line x1="461.10" y1="504.30" x2="461.10" y2="508.60" stroke="#4c4c4c" stroke-width="1.7" stroke-linecap="butt"/>
<line x1="453.10" y1="429.80" x2="469.10" y2="429.80" stroke="#4c4c4c" stroke-width="1.7" stroke-linecap="butt"/>
<line x1="453.10" y1="508.60" x2="469.10" y2="508.60" stroke="#4c4c4c" stroke-width="1.7" stroke-linecap="butt"/>
<rect x="444.90" y="479.20" width="32.40" height="25.10" fill="#00ff00" stroke="#4c4c4c" stroke-width="1.7" stroke-linejoin="round"/>
<line x1="444.90" y1="496.40" x2="477.30" y2="496.40" stroke="#4c4c4c" stroke-width="1.7" stroke-linecap="butt"/>
<line x1="509.40" y1="474.20" x2="509.40" y2="491.10" stroke="#000" stroke-width="1.9" stroke-linecap="butt"/>
<line x1="509.40" y1="501.80" x2="509.40" y2="508.80" stroke="#000" stroke-width="1.9" stroke-linecap="butt"/>
<line x1="501.40" y1="474.20" x2="517.40" y2="474.20" stroke="#000" stroke-width="1.9" stroke-linecap="butt"/>
<line x1="501.40" y1="508.80" x2="517.40" y2="508.80" stroke="#000" stroke-width="1.9" stroke-linecap="butt"/>
<rect x="493.20" y="491.10" width="32.40" height="10.70" fill="#0000ff" stroke="#000" stroke-width="1.9" stroke-linejoin="round"/>
<line x1="493.20" y1="496.30" x2="525.60" y2="496.30" stroke="#000" stroke-width="1.9" stroke-linecap="butt"/>
<line x1="558.70" y1="494.80" x2="558.70" y2="505.00" stroke="#4c4c4c" stroke-width="1.4" stroke-linecap="butt"/>
<line x1="558.70" y1="508.10" x2="558.70" y2="508.10" stroke="#4c4c4c" stroke-width="1.4" stroke-linecap="butt"/>
<line x1="550.70" y1="494.80" x2="566.70" y2="494.80" stroke="#4c4c4c" stroke-width="1.4" stroke-linecap="butt"/>
<line x1="550.70" y1="508.10" x2="566.70" y2="508.10" stroke="#4c4c4c" stroke-width="1.4" stroke-linecap="butt"/>
<rect x="542.50" y="505.00" width="32.40" height="3.10" fill="#30a830" stroke="#4c4c4c" stroke-width="1.4" stroke-linejoin="round"/>
<line x1="542.50" y1="507.40" x2="574.90" y2="507.40" stroke="#4c4c4c" stroke-width="1.4" stroke-linecap="butt"/>
<line x1="607.00" y1="386.90" x2="607.00" y2="429.20" stroke="#000" stroke-width="1.9" stroke-linecap="butt"/>
<line x1="607.00" y1="476.40" x2="607.00" y2="487.90" stroke="#000" stroke-width="1.9" stroke-linecap="butt"/>
<line x1="599.00" y1="386.90" x2="615.00" y2="386.90" stroke="#000" stroke-width="1.9" stroke-linecap="butt"/>
<line x1="599.00" y1="487.90" x2="615.00" y2="487.90" stroke="#000" stroke-width="1.9" stroke-linecap="butt"/>
<rect x="590.80" y="429.20" width="32.40" height="47.20" fill="#0000ff" stroke="#000" stroke-width="1.9" stroke-linejoin="round"/>
<line x1="590.80" y1="450.90" x2="623.20" y2="450.90" stroke="#000" stroke-width="1.9" stroke-linecap="butt"/>
<line x1="655.60" y1="500.10" x2="655.60" y2="506.90" stroke="#9a9a9a" stroke-width="1.7" stroke-linecap="butt"/>
<line x1="647.60" y1="500.10" x2="663.60" y2="500.10" stroke="#9a9a9a" stroke-width="1.7" stroke-linecap="butt"/>
<line x1="647.60" y1="506.90" x2="663.60" y2="506.90" stroke="#9a9a9a" stroke-width="1.7" stroke-linecap="butt"/>
<line x1="639.40" y1="503.60" x2="671.80" y2="503.60" stroke="#9a9a9a" stroke-width="1.7" stroke-linecap="butt"/>
<path d="M412.40 330.30 V321.50 H462.80 V330.30" fill="none" stroke="#000" stroke-width="1.9"/>
<path d="M510.00 469.30 V460.40 H560.30 V469.30" fill="none" stroke="#000" stroke-width="1.9"/>
<path d="M607.00 382.30 V373.70 H657.20 V382.30" fill="none" stroke="#000" stroke-width="1.9"/>
<text x="415.50" y="303.10" font-family="'Liberation Serif', serif" font-weight="bold" font-size="9.1" text-anchor="start" textLength="45.20" lengthAdjust="spacingAndGlyphs" stroke="#000" stroke-width="0.3">Piperacillin</text>
<text x="419.60" y="314.10" font-family="'Liberation Serif', serif" font-weight="bold" font-size="9.1" text-anchor="start" textLength="36.40" lengthAdjust="spacingAndGlyphs" stroke="#000" stroke-width="0.3">p &lt; 0.001</text>
<text x="457.45" y="315.90" font-family="'Liberation Sans', sans-serif" font-weight="normal" font-size="14.0" text-anchor="start" fill="#222" stroke="#222" stroke-width="0.25">*</text>
<text x="511.30" y="443.90" font-family="'Liberation Serif', serif" font-weight="bold" font-size="9.1" text-anchor="start" textLength="48.10" lengthAdjust="spacingAndGlyphs" stroke="#000" stroke-width="0.3">Meropenem</text>
<text x="516.80" y="454.70" font-family="'Liberation Serif', serif" font-weight="bold" font-size="9.1" text-anchor="start" textLength="36.50" lengthAdjust="spacingAndGlyphs" stroke="#000" stroke-width="0.3">p &lt; 0.001</text>
<text x="554.75" y="456.90" font-family="'Liberation Sans', sans-serif" font-weight="normal" font-size="14.0" text-anchor="start" fill="#222" stroke="#222" stroke-width="0.25">*</text>
<text x="612.40" y="355.60" font-family="'Liberation Serif', serif" font-weight="bold" font-size="9.1" text-anchor="start" textLength="38.00" lengthAdjust="spacingAndGlyphs" stroke="#000" stroke-width="0.3">Cefepime</text>
<text x="612.80" y="366.80" font-family="'Liberation Serif', serif" font-weight="bold" font-size="9.1" text-anchor="start" textLength="37.40" lengthAdjust="spacingAndGlyphs" stroke="#000" stroke-width="0.3">p = 0.030</text>
<text x="651.65" y="369.00" font-family="'Liberation Sans', sans-serif" font-weight="normal" font-size="14.0" text-anchor="start" fill="#222" stroke="#222" stroke-width="0.25">*</text>
</svg>
</body></html>
